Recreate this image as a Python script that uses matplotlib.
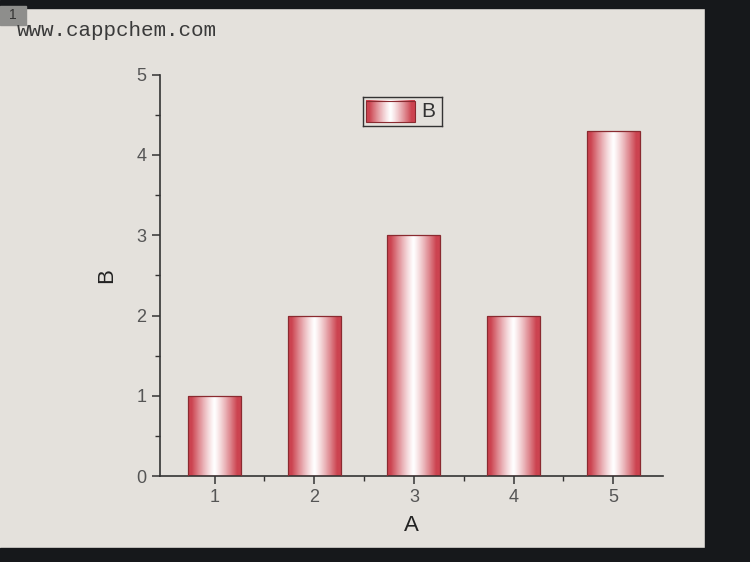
import numpy as np
import matplotlib.pyplot as plt
from matplotlib.patches import Rectangle
from matplotlib.colors import to_rgb

categories = [1, 2, 3, 4, 5]
values = [1.0, 2.0, 3.0, 2.0, 4.3]
series_name = "B"

plt.rcParams['font.family'] = ['Liberation Sans', 'DejaVu Sans']

panel = "#e4e1dc"
dark = "#16181b"
red = to_rgb("#cc4450")
edge = "#8a2a30"


def gradient_image(n=64):
    # red at both sides, fading to white in the middle
    t = np.linspace(0, 1, n)
    f = np.clip(np.abs(2 * t - 1) * 1.15, 0, 1) ** 1.2
    img = np.ones((1, n, 3))
    for c in range(3):
        img[0, :, c] = 1 - (1 - red[c]) * f
    return img


fig = plt.figure(figsize=(7.5, 5.62), dpi=100)
fig.patch.set_facecolor(panel)

# dark screen border right, bottom and top
fig.patches.append(Rectangle((0.94, 0), 0.06, 1, transform=fig.transFigure, color=dark, zorder=0))
fig.patches.append(Rectangle((0, 0), 1, 0.025, transform=fig.transFigure, color=dark, zorder=0))
fig.patches.append(Rectangle((0, 0.985), 1, 0.015, transform=fig.transFigure, color=dark, zorder=0))
fig.patches.append(Rectangle((0, 0.955), 0.035, 0.035, transform=fig.transFigure, color="#8e8e8c", zorder=0))
fig.text(0.012, 0.985, "1", fontsize=10, color="#333333", va="top")

fig.text(0.022, 0.945, "www.cappchem.com", fontsize=15, color="#3a3a3a",
         family="Liberation Mono", va="center")

ax = fig.add_axes([0.213, 0.153, 0.671, 0.714])
ax.set_facecolor(panel)

width = 0.53
img = gradient_image()
for x, v in zip(categories, values):
    rect = Rectangle((x - width / 2, 0), width, v, facecolor="none",
                     edgecolor=edge, linewidth=0.9, zorder=3)
    ax.add_patch(rect)
    im = ax.imshow(img, extent=[x - width / 2, x + width / 2, 0, v],
                   aspect="auto", zorder=2, interpolation="bilinear")
    im.set_clip_path(rect)
ax.set_xlim(0.45, 5.5)
ax.set_ylim(0, 5)

for s in ["top", "right"]:
    ax.spines[s].set_visible(False)
for s in ["left", "bottom"]:
    ax.spines[s].set_color("#333333")
    ax.spines[s].set_linewidth(1.2)

ax.set_xticks(categories)
ax.set_xticks([1.5, 2.5, 3.5, 4.5], minor=True)
ax.set_yticks([0, 1, 2, 3, 4, 5])
ax.set_yticks([0.5, 1.5, 2.5, 3.5, 4.5], minor=True)
ax.tick_params(which="major", direction="out", length=6, width=1.1, colors="#333333",
               labelsize=13, labelcolor="#555555")
ax.tick_params(which="minor", direction="out", length=3.5, width=1.0, colors="#333333")
ax.set_xlabel("A", fontsize=16, color="#222222", labelpad=6)
ax.set_ylabel("B", fontsize=16, color="#222222", labelpad=14)

# legend
lax = fig.add_axes([0.484, 0.776, 0.105, 0.051])
lax.set_facecolor(panel)
lax.imshow(img, extent=[0.04, 0.66, 0.12, 0.88], aspect="auto", interpolation="bilinear")
lax.add_patch(Rectangle((0.04, 0.12), 0.62, 0.76, facecolor="none", edgecolor=edge, lw=0.8))
lax.set_xlim(0, 1)
lax.set_ylim(0, 1)
lax.text(0.83, 0.5, series_name, fontsize=15, va="center", ha="center", color="#333333")
lax.set_xticks([])
lax.set_yticks([])
for s in lax.spines.values():
    s.set_color("#333333")
    s.set_linewidth(1.0)

fig.savefig("out.png", dpi=100, facecolor=fig.get_facecolor())
